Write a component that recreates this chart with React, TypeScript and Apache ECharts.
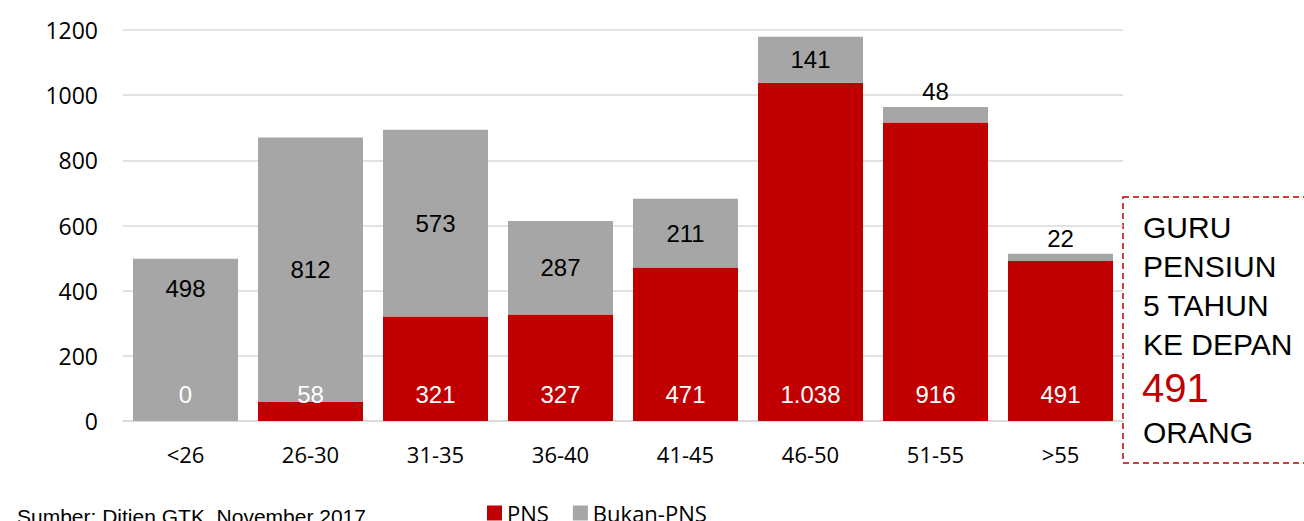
import React, { useEffect, useRef } from "react";
import * as echarts from "echarts";

const categories = ["<26", "26-30", "31-35", "36-40", "41-45", "46-50", "51-55", ">55"];
const pnsValues = [0, 58, 321, 327, 471, 1038, 916, 491];
const bukanValues = [498, 812, 573, 287, 211, 141, 48, 22];
const pnsLabels = ["0", "58", "321", "327", "471", "1.038", "916", "491"];
// label placement for the gray segments
const bukanLabelPos = ["insideTop", "inside", "inside", "inside", "inside", "inside", "top", "top"];
const yTicks = { min: 0, max: 1200, interval: 200 };
const boxLines = ["GURU", "PENSIUN", "5 TAHUN", "KE DEPAN"];
const boxNumber = "491";
const boxLast = "ORANG";
const sourceText = "Sumber: Ditjen GTK, November 2017";

const RED = "#C00000";
const GRAY = "#A6A6A6";

export default function App() {
  const ref = useRef<HTMLDivElement>(null);
  useEffect(() => {
    if (!ref.current) return;
    const chart = echarts.init(ref.current, null, { renderer: "svg" });
    const boxFont = "Arial, 'Liberation Sans', sans-serif";
    const axisFont = "'Open Sans', sans-serif";
    const lineYs = [227, 266, 305, 344];
    chart.setOption({
      animation: false,
      grid: { left: 123, right: 181, top: 30, bottom: 100 },
      legend: {
        left: 482,
        top: 497,
        itemWidth: 15,
        itemHeight: 15,
        itemGap: 24,
        icon: "rect",
        textStyle: { fontFamily: axisFont, fontSize: 22, color: "#000" },
        data: ["PNS", "Bukan-PNS"],
      },
      xAxis: {
        type: "category",
        data: categories,
        axisTick: { show: false },
        axisLine: { lineStyle: { color: "#D9D9D9", width: 1.5 } },
        axisLabel: { fontFamily: axisFont, fontSize: 22, color: "#000", margin: 22 },
      },
      yAxis: {
        type: "value",
        min: yTicks.min,
        max: yTicks.max,
        interval: yTicks.interval,
        axisLabel: {
          fontFamily: axisFont,
          fontSize: 23,
          color: "#000",
          margin: 25,
          formatter: (v: number) => String(v),
        },
        splitLine: { lineStyle: { color: "#D9D9D9", width: 1.5 } },
        axisLine: { show: false },
        axisTick: { show: false },
      },
      series: [
        {
          name: "PNS",
          type: "bar",
          stack: "total",
          barCategoryGap: "16%",
          itemStyle: { color: RED },
          data: pnsValues.map((v, i) => ({
            value: v,
            label: { formatter: pnsLabels[i] },
          })),
          label: {
            show: true,
            position: "insideBottom",
            distance: 15,
            color: "#fff",
            fontFamily: boxFont,
            fontSize: 24,
          },
        },
        {
          name: "Bukan-PNS",
          type: "bar",
          stack: "total",
          barCategoryGap: "16%",
          itemStyle: { color: GRAY },
          data: bukanValues.map((v, i) => ({
            value: v,
            label: {
              position: bukanLabelPos[i],
              distance: bukanLabelPos[i] === "insideTop" ? 18 : 3,
            },
          })),
          label: {
            show: true,
            position: "inside",
            color: "#000",
            fontFamily: boxFont,
            fontSize: 24,
          },
        },
      ],
      graphic: [
        {
          type: "rect",
          shape: { x: 1123, y: 197, width: 200, height: 266 },
          style: { fill: "none", stroke: RED, lineWidth: 1.5, lineDash: [6, 4] },
        },
        ...boxLines.map((t, i) => ({
          type: "text",
          x: 1143,
          y: lineYs[i],
          style: { text: t, fill: "#000", font: `30px ${boxFont}`, verticalAlign: "middle" },
        })),
        {
          type: "text",
          x: 1142,
          y: 388,
          style: { text: boxNumber, fill: RED, font: `40px ${boxFont}`, verticalAlign: "middle" },
        },
        {
          type: "text",
          x: 1143,
          y: 432,
          style: { text: boxLast, fill: "#000", font: `30px ${boxFont}`, verticalAlign: "middle" },
        },
        {
          type: "text",
          x: 17,
          y: 506,
          style: { text: sourceText, fill: "#000", font: `21px ${boxFont}`, verticalAlign: "top" },
        },
      ],
    });
    return () => chart.dispose();
  }, []);
  return <div ref={ref} style={{ width: 1304, height: 521, position: "absolute", left: 0, top: 0 }} />;
}
